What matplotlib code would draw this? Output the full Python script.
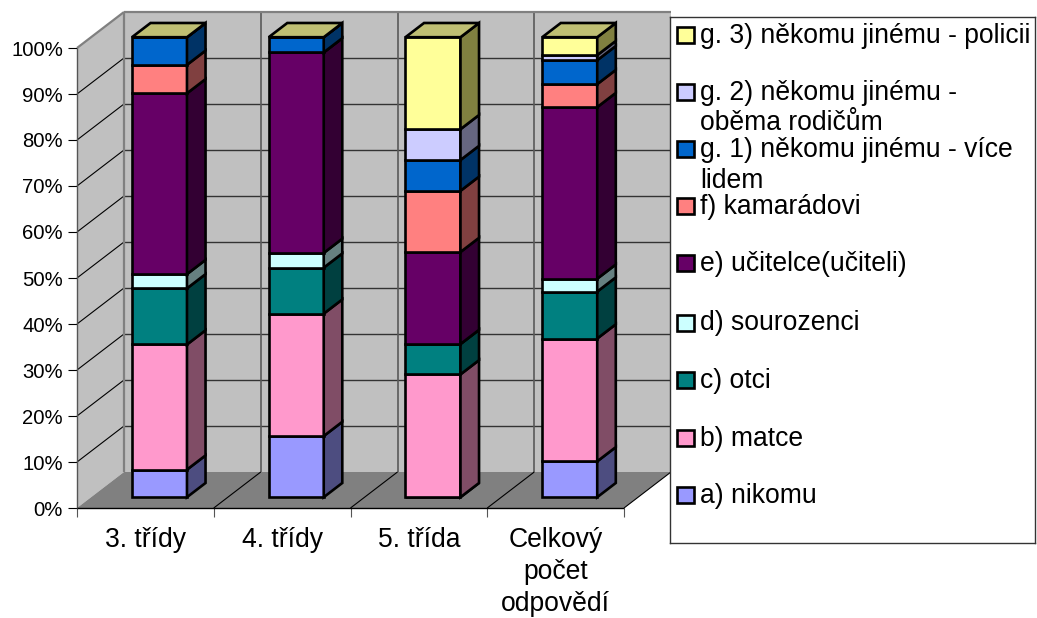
# -*- coding: utf-8 -*-
# stacked 3D-look columns (Excel style), depth is faked with a shear on the data coords
import matplotlib
matplotlib.use('Agg')
import matplotlib.pyplot as plt
import numpy as np
from matplotlib.patches import Polygon, Rectangle

plt.rcParams['font.family'] = ['Liberation Sans', 'DejaVu Sans']

W, H = 1037, 618
FS = 14.6
FS_BIG = 19.1
EDGE = 1.9

categories = ['3. třídy', '4. třídy', '5. třída', 'Celkový\npočet\nodpovědí']
pct_ticks = [0, 10, 20, 30, 40, 50, 60, 70, 80, 90, 100]

# series, bottom to top of the stack
nikomu = [6.0, 13.3, 0.0, 7.8]
matce = [27.2, 26.6, 26.7, 26.7]
otci = [12.2, 10.0, 6.6, 10.2]
sourozenci = [3.1, 3.2, 0.0, 2.8]
ucitelce = [39.3, 43.6, 20.0, 37.3]
kamaradovi = [6.2, 0.0, 13.3, 5.0]
vice_lidem = [6.0, 3.3, 6.7, 5.2]
rodicum = [0.0, 0.0, 6.7, 1.1]
policii = [0.0, 0.0, 20.0, 3.9]

series = [nikomu, matce, otci, sourozenci, ucitelce, kamaradovi, vice_lidem, rodicum, policii]
colors = ['#9999FF', '#FF99CC', '#008080', '#CCFFFF', '#660066',
          '#FF8080', '#0066CC', '#CCCCFF', '#FFFF99']
side_colors = ['#4D4D80', '#804D66', '#004040', '#668080', '#330033',
               '#804040', '#003366', '#666680', '#808040']
top_color = '#BFBF73'

# legend goes top to bottom, each entry can wrap over two lines
legend_labels = [['g. 3) někomu jinému - policii'],
                 ['g. 2) někomu jinému -', 'oběma rodičům'],
                 ['g. 1) někomu jinému - více', 'lidem'],
                 ['f) kamarádovi'],
                 ['e) učitelce(učiteli)'],
                 ['d) sourozenci'],
                 ['c) otci'],
                 ['b) matce'],
                 ['a) nikomu']]

# depth of the box in data units
DX = 47 / 136.75
DY = 36 / 4.6
BAR_W = 55.0 / 136.75
Z0, Z1 = 0.30, 0.695


def proj(x, y, z):
    return (x + z * DX, y + z * DY)


def face(ax, pts, fc, ec='none', lw=0, zorder=1):
    xy = [proj(*p) for p in pts]
    ax.add_patch(Polygon(xy, closed=True, facecolor=fc, edgecolor=ec, linewidth=lw,
                         joinstyle='miter', clip_on=False, zorder=zorder))


def line3(ax, p0, p1, color='black', lw=0.8, zorder=2):
    a, b = proj(*p0), proj(*p1)
    ax.plot([a[0], b[0]], [a[1], b[1]], color=color, lw=lw, clip_on=False,
            solid_capstyle='butt', zorder=zorder)


fig = plt.figure(figsize=(W / 100, H / 100), dpi=100)
# axes frame = front plane of the box
ax = fig.add_axes([77 / W, (H - 508) / H, 547 / W, 460 / H])
n = len(categories)
ax.set_xlim(0, n)
ax.set_ylim(0, 100)
for s in ax.spines.values():
    s.set_visible(False)

# walls and floor
face(ax, [(0, 0, 0), (0, 100, 0), (0, 100, 1), (0, 0, 1)], '#C0C0C0')
face(ax, [(0, 0, 1), (0, 100, 1), (n, 100, 1), (n, 0, 1)], '#C0C0C0')
face(ax, [(0, 0, 0), (0, 0, 1), (n, 0, 1), (n, 0, 0)], '#808080')

# gridlines
for v in pct_ticks[1:-1]:
    line3(ax, (0, v, 0), (0, v, 1))
    line3(ax, (0, v, 1), (n, v, 1), color='#333333', lw=1.0)
for i in range(1, n):
    line3(ax, (i, 0, 1), (i, 100, 1), color='#595959', lw=1.2)
for i in range(1, n + 1):
    line3(ax, (i, 0, 0), (i, 0, 1))

# wall edges
line3(ax, (0, 0, 1), (0, 100, 1), color='#808080', lw=1.6)
line3(ax, (0, 100, 1), (n, 100, 1), color='#808080', lw=1.6)
line3(ax, (0, 100, 0), (0, 100, 1), color='#808080', lw=1.6)
line3(ax, (0, 0, 0), (0, 100, 0), color='#555555', lw=1.0, zorder=3)
line3(ax, (0, 0, 0), (n, 0, 0), color='black', lw=1.0, zorder=3)

# columns
for i in range(n):
    x0 = i + 0.5 - BAR_W / 2
    x1 = i + 0.5 + BAR_W / 2
    bottom = 0.0
    for vals, c, sc in zip(series, colors, side_colors):
        top = bottom + vals[i]
        face(ax, [(x0, bottom, Z0), (x1, bottom, Z0), (x1, top, Z0), (x0, top, Z0)],
             c, 'black', EDGE, zorder=5)
        face(ax, [(x1, bottom, Z0), (x1, bottom, Z1), (x1, top, Z1), (x1, top, Z0)],
             sc, 'black', EDGE, zorder=5)
        bottom = top
    face(ax, [(x0, bottom, Z0), (x1, bottom, Z0), (x1, bottom, Z1), (x0, bottom, Z1)],
         top_color, 'black', EDGE, zorder=5)

# axes ticks
ax.set_yticks(pct_ticks)
ax.set_yticklabels(['%d%%' % v for v in pct_ticks], fontsize=FS)
ax.tick_params(axis='y', length=6.5, width=0.8, pad=3.5, color='black')
ax.set_xticks(np.arange(n + 1))
ax.set_xticklabels([])
ax.tick_params(axis='x', which='major', length=6.5, width=0.8, color='#555555')
ax.set_xticks(np.arange(n) + 0.5, minor=True)
ax.set_xticklabels(categories, minor=True, fontsize=FS_BIG, linespacing=1.3)
ax.tick_params(axis='x', which='minor', length=0, pad=14)

# legend box, its own axes in pixels
LX0, LX1, LY0, LY1 = 669.5, 1035, 16.5, 542.5
lax = fig.add_axes([LX0 / W, (H - LY1) / H, (LX1 - LX0) / W, (LY1 - LY0) / H], zorder=10)
lax.set_xlim(LX0, LX1)
lax.set_ylim(LY1, LY0)
lax.set_xticks([])
lax.set_yticks([])
for s in lax.spines.values():
    s.set_color('#333333')
    s.set_linewidth(1.0)
legend_y = [35, 92, 149, 206, 263, 322.5, 380, 437.5, 495]
for labels, c, y in zip(legend_labels, colors[::-1], legend_y):
    lax.add_patch(Rectangle((677, y - 8), 17, 16, facecolor=c, edgecolor='black', linewidth=1.9))
    for k, txt in enumerate(labels):
        lax.text(700, y + 8 + k * 30.5, txt, fontsize=FS_BIG, va='baseline', ha='left', color='black')

fig.savefig('out.png', dpi=100)
